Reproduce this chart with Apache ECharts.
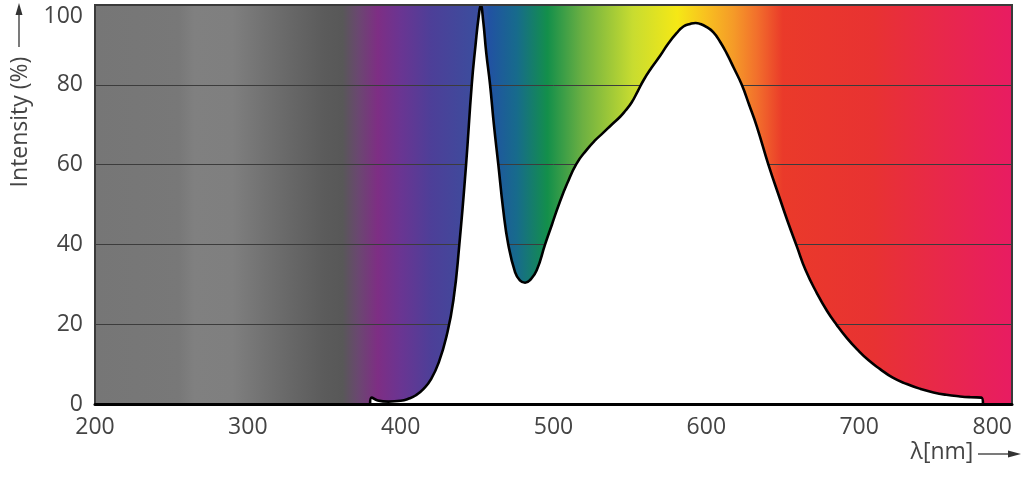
<!DOCTYPE html>
<html>
<head>
<meta charset="utf-8">
<title>LED spectrum</title>
<script src="https://cdn.jsdelivr.net/npm/echarts@6/dist/echarts.min.js"></script>
<style>
  html, body { margin: 0; padding: 0; background: #fff; }
  #chart { width: 1026px; height: 481px; }
</style>
</head>
<body>
<div id="chart"></div>
<script>
// wavelength axis (nm)
var xMin = 200, xMax = 800, xStep = 100;
var yMin = 0, yMax = 100, yStep = 20;

// measured spectrum, [wavelength nm, relative intensity %]
var wavelength = [380, 381, 385, 392, 400, 405, 410, 415, 420, 425, 430, 434.5, 438.4, 442.8, 446.5, 449, 451, 452.4,
  454, 456, 458.5, 461, 463.9, 467, 470.4, 474.9, 478, 481.4, 485, 489, 494.5, 499, 504, 509, 515, 521.7, 527,
  532.6, 538, 543.6, 547, 551, 555, 559, 564, 570, 575, 580.7, 585, 589.4, 593, 596, 600, 604.5, 609, 613.4, 618,
  623.2, 628, 633, 640.6, 648.3, 653, 659.2, 665, 672.3, 679, 685.4, 692, 698.5, 706, 713.7, 722, 731.2, 740,
  748.6, 757, 766, 773, 780, 781];
var intensity = [0, 1.6, 0.9, 0.6, 0.8, 1.3, 2.2, 3.8, 6.3, 10.5, 17, 26, 40, 60, 80, 90, 97, 100,
  96, 88, 80, 70, 60, 49, 40, 33, 31, 30.4, 31.2, 33.5, 40, 45, 50.5, 55.3, 60.2, 63.7, 66,
  68, 70, 72, 73.5, 75.5, 78.3, 81.2, 84.2, 87.4, 90.3, 93, 94.6, 95.25, 95.5, 95.25, 94.5, 93.2, 90.8, 87.8, 84.2,
  80, 75, 69.6, 60, 51.25, 46, 39.5, 33.5, 27.8, 23.3, 19.75, 16.5, 13.75, 11, 8.75, 6.6, 5, 3.8,
  2.9, 2.3, 1.9, 1.7, 1.6, 0];

// background colour band: wavelength -> colour
var bandNm = [200, 255, 265, 290, 310, 330, 350, 362, 372, 385, 400, 420, 443, 452, 458, 476, 496, 519, 552,
  581, 600, 618, 633, 650, 709, 753, 800];
var bandColor = ['#767676', '#787878', '#808080', '#7f7f7f', '#727272', '#666666', '#5b5b5b', '#585858',
  '#6a4870', '#7e2e84', '#6a3592', '#4d3f98', '#3f4a9c', '#3a4ea0', '#2152a2', '#176b8c', '#138f4b',
  '#6cb042', '#c8dc30', '#f5e816', '#f8c020', '#f59a28', '#f2702c', '#ea3a2a', '#e83232', '#e8284a', '#e81c62'];

var spectrum = wavelength.map(function (w, i) { return [w, intensity[i]]; });
var stops = bandNm.map(function (w, i) {
  return { offset: (w - xMin) / (xMax - xMin), color: bandColor[i] };
});

var chart = echarts.init(document.getElementById('chart'));
var font = '"Open Sans", "DejaVu Sans", sans-serif';

var option = {
  animation: false,
  grid: {
    left: 95, right: 14, top: 5, bottom: 77,
    show: true, borderColor: '#3a3a3a', borderWidth: 2,
    backgroundColor: 'transparent', z: 4
  },
  xAxis: {
    type: 'value', min: xMin, max: xMax, interval: xStep, z: 4,
    axisLine: { show: true, onZero: false, lineStyle: { color: '#000', width: 3 } },
    axisTick: { show: false },
    splitLine: { show: false },
    axisLabel: { fontSize: 23, color: '#444', margin: 12, fontFamily: font, alignMaxLabel: 'right' }
  },
  yAxis: {
    type: 'value', min: yMin, max: yMax, interval: yStep, z: 2,
    axisLine: { show: true, lineStyle: { color: '#3a3a3a', width: 2 } },
    axisTick: { show: false },
    splitLine: { show: true, lineStyle: { color: '#3c3c3c', width: 1 } },
    axisLabel: { fontSize: 23, color: '#444', margin: 12, fontFamily: font, verticalAlignMaxLabel: 'top' }
  },
  series: [
    {
      // colour band behind the curve
      type: 'line', z: 1, silent: true,
      data: [[xMin, yMax], [xMax, yMax]],
      showSymbol: false,
      lineStyle: { width: 0 },
      areaStyle: { opacity: 1, color: new echarts.graphic.LinearGradient(0, 0, 1, 0, stops) }
    },
    {
      type: 'line', z: 3,
      data: spectrum,
      smooth: 0.5,
      showSymbol: false,
      lineStyle: { color: '#000', width: 2.6 },
      areaStyle: { color: '#fff', opacity: 1 }
    }
  ],
  graphic: [
    {
      type: 'text', x: 20, y: 122, rotation: Math.PI / 2,
      style: { text: 'Intensity (%)', fontSize: 23, fill: '#444', fontFamily: font,
        align: 'center', verticalAlign: 'middle' }
    },
    { type: 'line', shape: { x1: 19, y1: 47, x2: 19, y2: 12 }, style: { stroke: '#333', lineWidth: 1.3 } },
    { type: 'polygon', shape: { points: [[19, 3], [15.5, 15], [22.5, 15]] }, style: { fill: '#333' } },
    {
      type: 'text', x: 942, y: 452,
      style: { text: 'λ[nm]', fontSize: 23, fill: '#444', fontFamily: font,
        align: 'center', verticalAlign: 'middle' }
    },
    { type: 'line', shape: { x1: 978, y1: 454, x2: 1010, y2: 454 }, style: { stroke: '#333', lineWidth: 1.3 } },
    { type: 'polygon', shape: { points: [[1021, 454], [1008, 450.5], [1008, 457.5]] }, style: { fill: '#333' } }
  ]
};
chart.setOption(option);
</script>
</body>
</html>
